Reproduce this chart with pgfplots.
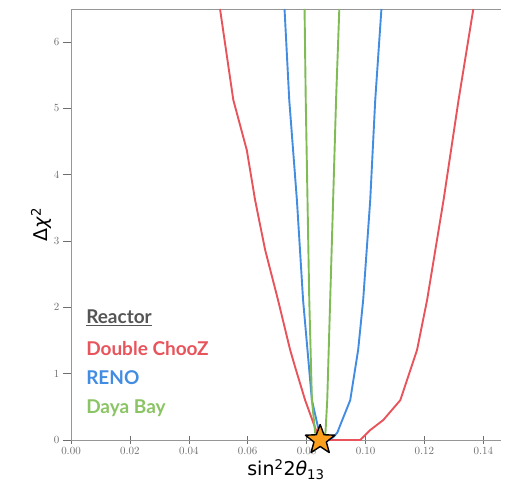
\documentclass[border=0pt]{standalone}
\usepackage{pgfplots}
\pgfplotsset{compat=1.18}
\usepackage{fontspec}
\setmainfont{Latin Modern Roman}
\newfontfamily\legfont{Lato}
\newfontfamily\labfont{DejaVu Sans}

\definecolor{dcred}{RGB}{232,84,92}
\definecolor{renoblue}{RGB}{66,140,226}
\definecolor{dybgreen}{RGB}{128,188,86}
\definecolor{dybtext}{RGB}{138,196,100}
\definecolor{axgray}{RGB}{150,150,150}
\definecolor{tickgray}{RGB}{110,110,110}
\definecolor{stargold}{RGB}{250,160,30}

% filled five-pointed star
\pgfdeclareplotmark{fstar}{%
  \pgfpathmoveto{\pgfpointpolar{90}{\pgfplotmarksize}}%
  \pgfpathlineto{\pgfpointpolar{126}{0.42\pgfplotmarksize}}%
  \pgfpathlineto{\pgfpointpolar{162}{\pgfplotmarksize}}%
  \pgfpathlineto{\pgfpointpolar{198}{0.42\pgfplotmarksize}}%
  \pgfpathlineto{\pgfpointpolar{234}{\pgfplotmarksize}}%
  \pgfpathlineto{\pgfpointpolar{270}{0.42\pgfplotmarksize}}%
  \pgfpathlineto{\pgfpointpolar{306}{\pgfplotmarksize}}%
  \pgfpathlineto{\pgfpointpolar{342}{0.42\pgfplotmarksize}}%
  \pgfpathlineto{\pgfpointpolar{18}{\pgfplotmarksize}}%
  \pgfpathlineto{\pgfpointpolar{54}{0.42\pgfplotmarksize}}%
  \pgfpathclose
  \pgfusepathqfillstroke}

\begin{document}
\begin{tikzpicture}
\path[use as bounding box] (-71pt,-52pt) rectangle (435pt,440pt);
\begin{axis}[
  scale only axis,
  width=430pt, height=431pt,
  xmin=0, xmax=0.146,
  ymin=0, ymax=6.5,
  axis x line*=box,
  axis y line*=left,
  axis line style={axgray, line width=0.8pt},
  xtick={0,0.02,...,0.14},
  ytick={0,1,...,6},
  xticklabel style={/pgf/number format/.cd, fixed, fixed zerofill, precision=2},
  xtick pos=bottom, ytick pos=left,
  x tick style={tickgray, line width=0.6pt},
  y tick style={tickgray, line width=0.6pt},
  xtick align=center,
  ytick align=outside,
  major tick length=8pt,
  tick label style={font=\fontsize{11}{12}\selectfont, text=tickgray},
  xlabel={sin\textsuperscript{2}2\textit{θ}\textsubscript{13}},
  ylabel={Δ\textit{χ}\textsuperscript{2}},
  label style={font=\labfont\fontsize{19}{21}\selectfont},
  xlabel style={yshift=2pt},
  ylabel style={yshift=-4pt},
  clip=false,
  every axis plot/.append style={line width=1.9pt, mark=none, line join=round},
]
% Double Chooz
\addplot[dcred] coordinates {
  (0.0506,6.5) (0.0551,5.13) (0.0597,4.37) (0.0625,3.62) (0.0659,2.87)
  (0.0703,2.11) (0.0744,1.36) (0.0761,1.10) (0.0795,0.60) (0.0835,0.11)
  (0.0870,0.0) (0.0982,0.0) (0.1016,0.15) (0.1060,0.30) (0.1118,0.60)
  (0.1175,1.36) (0.1209,2.11) (0.1265,3.62) (0.1316,5.13) (0.1366,6.5)
};
% RENO
\addplot[renoblue] coordinates {
  (0.0725,6.5) (0.0741,5.13) (0.0767,3.62) (0.0788,2.11) (0.0818,0.60)
  (0.0843,0.11) (0.0870,0.0) (0.0890,0.04) (0.0904,0.11) (0.0948,0.60)
  (0.0975,1.36) (0.0992,2.11) (0.1016,3.62) (0.1033,5.13) (0.1054,6.5)
};
% Daya Bay
\addplot[dybgreen] coordinates {
  (0.0793,6.5) (0.0797,5.13) (0.0809,2.11) (0.0818,0.60) (0.0829,0.11)
  (0.0850,0.0) (0.0864,0.11) (0.0870,0.60) (0.0878,1.81) (0.0890,3.62)
  (0.0900,5.13) (0.0911,6.5)
};
% best fit
\addplot[only marks, mark=fstar, mark size=15.5pt,
  mark options={fill=stargold, draw=black, line width=1.4pt}]
  coordinates {(0.0846,0.0)};

\node[anchor=west, inner sep=0pt, font=\legfont\bfseries\fontsize{19}{21}\selectfont]
  at (rel axis cs:0.035,0.283) {\textcolor[RGB]{85,85,85}{\underline{Reactor}}};
\node[anchor=west, inner sep=0pt, font=\legfont\bfseries\fontsize{19}{21}\selectfont]
  at (rel axis cs:0.035,0.213) {\textcolor{dcred}{Double ChooZ}};
\node[anchor=west, inner sep=0pt, font=\legfont\bfseries\fontsize{19}{21}\selectfont]
  at (rel axis cs:0.035,0.144) {\textcolor{renoblue}{RENO}};
\node[anchor=west, inner sep=0pt, font=\legfont\bfseries\fontsize{19}{21}\selectfont]
  at (rel axis cs:0.035,0.074) {\textcolor{dybtext}{Daya Bay}};
\end{axis}
\end{tikzpicture}
\end{document}
